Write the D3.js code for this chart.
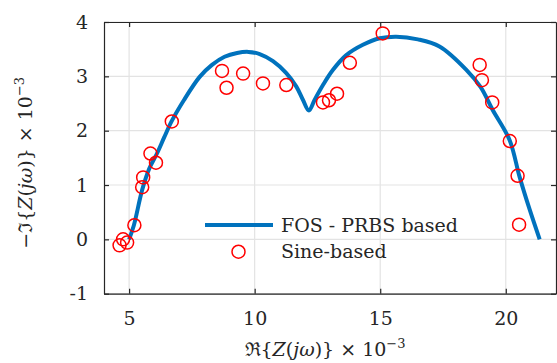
<!DOCTYPE html>
<html>
<head>
<meta charset="utf-8">
<script src="https://cdn.jsdelivr.net/npm/d3@7"></script>
<style>
  body { margin: 0; background: #fff; }
</style>
</head>
<body>
<div id="chart"></div>
<script>
// FOS model curve (PRBS based)
const fosRe = [5.0, 5.19, 5.52, 5.8, 6.11, 6.4, 6.69, 7.18, 7.81, 8.3, 8.8, 9.3, 9.75, 10.2, 10.73, 11.26, 11.66, 11.92, 12.16, 12.39, 12.72, 13.12, 13.65, 14.31, 14.98, 15.64, 16.5, 17.36, 18.43, 19.0, 19.48, 20.15, 20.55, 20.95, 21.35];
const fosIm = [0.0, 0.26, 0.91, 1.3, 1.58, 1.88, 2.17, 2.56, 2.99, 3.21, 3.36, 3.43, 3.45, 3.41, 3.28, 3.06, 2.81, 2.57, 2.37, 2.57, 2.84, 3.12, 3.39, 3.58, 3.70, 3.73, 3.68, 3.55, 3.12, 2.80, 2.38, 1.83, 1.15, 0.55, 0.0];

// sine-based measurements
const sineRe = [4.62, 4.76, 4.92, 5.21, 5.52, 5.56, 5.85, 6.07, 6.70, 8.70, 8.88, 9.54, 10.33, 11.26, 12.72, 12.96, 13.28, 13.79, 15.10, 18.96, 19.05, 19.46, 20.16, 20.47, 20.53];
const sineIm = [-0.11, 0.0, -0.06, 0.26, 0.96, 1.14, 1.58, 1.41, 2.17, 3.10, 2.79, 3.05, 2.87, 2.84, 2.52, 2.56, 2.68, 3.25, 3.79, 3.21, 2.93, 2.52, 1.81, 1.17, 0.27];

const xTicks = [5, 10, 15, 20];
const yTicks = [-1, 0, 1, 2, 3, 4];
const legendLabels = ["FOS - PRBS based", "Sine-based"];

const FONT = "DejaVu Serif";
const FS = 19;
const W = 557, H = 363;
const margin = { top: 22, right: 1, bottom: 69.3, left: 104 };
const iw = W - margin.left - margin.right;
const ih = H - margin.top - margin.bottom;

const svg = d3.select("#chart").append("svg")
    .attr("width", W)
    .attr("height", H)
    .attr("font-family", FONT);

const g = svg.append("g").attr("transform", `translate(${margin.left},${margin.top})`);

const x = d3.scaleLinear().domain([4, 22]).range([0, iw]);
const y = d3.scaleLinear().domain([-1, 4]).range([ih, 0]);

// grid
g.append("g")
    .selectAll("line.gx").data(xTicks).enter().append("line")
    .attr("x1", d => x(d)).attr("x2", d => x(d))
    .attr("y1", 0).attr("y2", ih)
    .attr("stroke", "#e3e3e3").attr("stroke-width", 1.2);
g.append("g")
    .selectAll("line.gy").data(yTicks).enter().append("line")
    .attr("y1", d => y(d)).attr("y2", d => y(d))
    .attr("x1", 0).attr("x2", iw)
    .attr("stroke", "#e3e3e3").attr("stroke-width", 1.2);

// axes (box with inward ticks)
function styleAxis(sel) {
    sel.attr("font-family", FONT).attr("font-size", FS);
    sel.selectAll("path").attr("stroke", "#262626").attr("stroke-width", 1.2);
    sel.selectAll("line").attr("stroke", "#262626").attr("stroke-width", 1.2);
    sel.selectAll("text").attr("fill", "#262626");
}
const fmt = d => String(d);

g.append("g").attr("transform", `translate(0,${ih})`)
    .call(d3.axisBottom(x).tickValues(xTicks).tickFormat(fmt).tickSizeInner(-5).tickSizeOuter(0).tickPadding(18))
    .call(styleAxis);
g.append("g")
    .call(d3.axisTop(x).tickValues(xTicks).tickFormat("").tickSizeInner(-5).tickSizeOuter(0))
    .call(styleAxis);
g.append("g")
    .call(d3.axisLeft(y).tickValues(yTicks).tickFormat(fmt).tickSizeInner(-5).tickSizeOuter(0).tickPadding(16))
    .call(styleAxis);
g.append("g").attr("transform", `translate(${iw},0)`)
    .call(d3.axisRight(y).tickValues(yTicks).tickFormat("").tickSizeInner(-5).tickSizeOuter(0))
    .call(styleAxis);

// FOS curve
const fos = fosRe.map((d, i) => [d, fosIm[i]]);
const line = d3.line()
    .x(d => x(d[0]))
    .y(d => y(d[1]))
    .curve(d3.curveCatmullRom.alpha(0.5));
g.append("path")
    .datum(fos)
    .attr("d", line)
    .attr("fill", "none")
    .attr("stroke", "#0072BD")
    .attr("stroke-width", 4);

// sine-based circles
const sine = sineRe.map((d, i) => [d, sineIm[i]]);
g.selectAll("circle.sine").data(sine).enter().append("circle")
    .attr("class", "sine")
    .attr("cx", d => x(d[0]))
    .attr("cy", d => y(d[1]))
    .attr("r", 6.5)
    .attr("fill", "none")
    .attr("stroke", "#ff0000")
    .attr("stroke-width", 1.5);

// legend (no box)
const lg = svg.append("g");
lg.append("line")
    .attr("x1", 205).attr("x2", 273)
    .attr("y1", 225).attr("y2", 225)
    .attr("stroke", "#0072BD").attr("stroke-width", 4);
lg.append("circle")
    .attr("cx", 238.5).attr("cy", 251.7).attr("r", 6.5)
    .attr("fill", "none").attr("stroke", "#ff0000").attr("stroke-width", 1.5);
lg.selectAll("text").data(legendLabels).enter().append("text")
    .attr("x", 281)
    .attr("y", (d, i) => 225 + i * 26.7)
    .attr("dy", "0.35em")
    .attr("font-size", FS)
    .attr("fill", "#262626")
    .text(d => d);

// axis labels with math
function mathLabel(sel, prefix) {
    sel.append("tspan").text(prefix + "{");
    sel.append("tspan").attr("font-style", "italic").text("Z");
    sel.append("tspan").text("(");
    sel.append("tspan").attr("font-style", "italic").text("jω");
    sel.append("tspan").text(")} × 10");
    sel.append("tspan").attr("font-size", 13).attr("dy", -8).text("−3");
}
const xl = svg.append("text")
    .attr("x", margin.left + iw / 2 - 5)
    .attr("y", 356)
    .attr("text-anchor", "middle")
    .attr("font-size", FS)
    .attr("fill", "#262626");
mathLabel(xl, "ℜ");

const yl = svg.append("text")
    .attr("transform", `translate(32,${margin.top + ih / 2 + 5}) rotate(-90)`)
    .attr("text-anchor", "middle")
    .attr("font-size", FS)
    .attr("fill", "#262626");
mathLabel(yl, "−ℑ");
</script>
</body>
</html>
